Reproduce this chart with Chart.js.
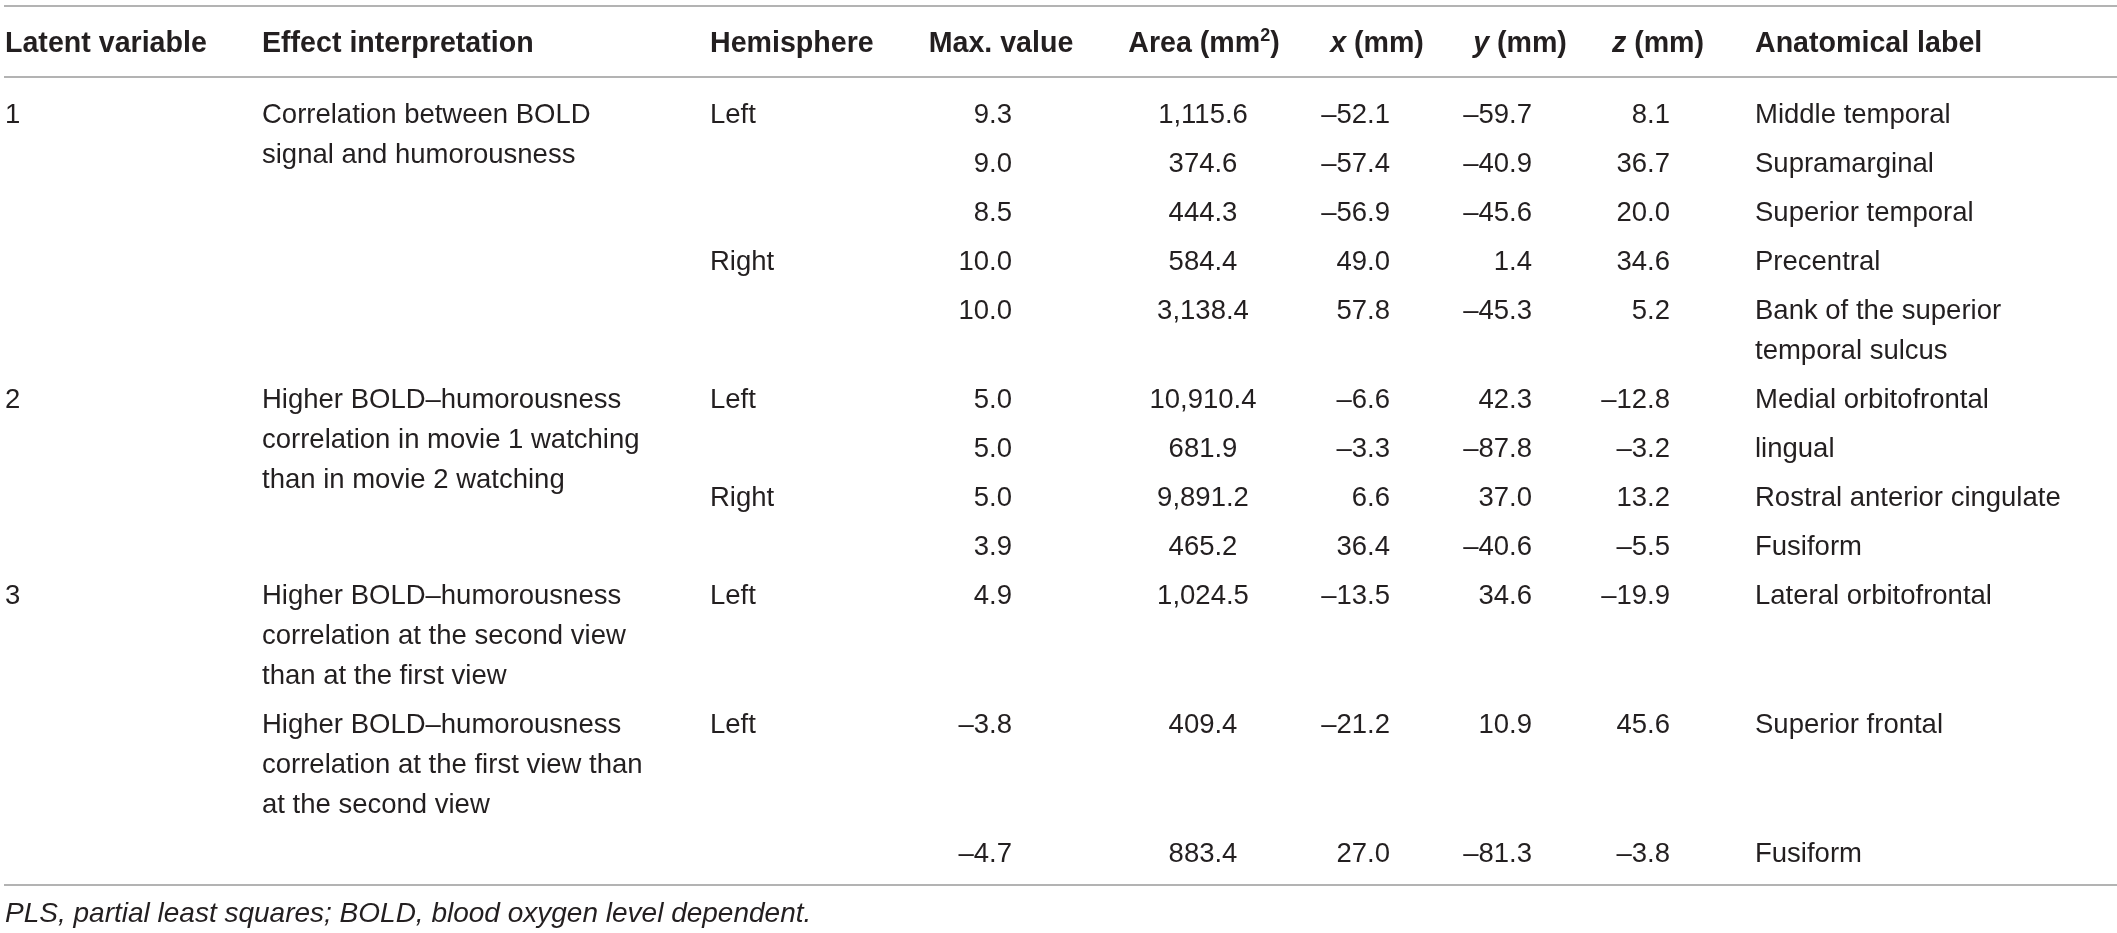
<!DOCTYPE html>
<html>
<head>
<meta charset="utf-8">
<title>PLS results table</title>
<script src="https://cdn.jsdelivr.net/npm/chart.js@4.4.0/dist/chart.umd.min.js"></script>
<style>
  html, body { margin: 0; padding: 0; background: #fff; overflow: hidden; }
  #wrap { width: 2117px; height: 933px; }
</style>
</head>
<body>
<div id="wrap"><canvas id="tableChart" width="2117" height="933"></canvas></div>
<script>
// ------------------------------------------------------------
// Table data (one entry per table row)
// ------------------------------------------------------------
const latentVariable = ['1', '', '', '', '', '2', '', '', '', '3', '', ''];
const effectText = [
  ['Correlation between BOLD', 'signal and humorousness'], [], [], [], [],
  ['Higher BOLD\u2013humorousness', 'correlation in movie 1 watching', 'than in movie 2 watching'], [], [], [],
  ['Higher BOLD\u2013humorousness', 'correlation at the second view', 'than at the first view'],
  ['Higher BOLD\u2013humorousness', 'correlation at the first view than', 'at the second view'],
  []
];
const hemisphere = ['Left', '', '', 'Right', '', 'Left', '', 'Right', '', 'Left', 'Left', ''];
const maxValue = [9.3, 9.0, 8.5, 10.0, 10.0, 5.0, 5.0, 5.0, 3.9, 4.9, -3.8, -4.7];
const areaMm2 = [1115.6, 374.6, 444.3, 584.4, 3138.4, 10910.4, 681.9, 9891.2, 465.2, 1024.5, 409.4, 883.4];
const xMm = [-52.1, -57.4, -56.9, 49.0, 57.8, -6.6, -3.3, 6.6, 36.4, -13.5, -21.2, 27.0];
const yMm = [-59.7, -40.9, -45.6, 1.4, -45.3, 42.3, -87.8, 37.0, -40.6, 34.6, 10.9, -81.3];
const zMm = [8.1, 36.7, 20.0, 34.6, 5.2, -12.8, -3.2, 13.2, -5.5, -19.9, 45.6, -3.8];
const anatomicalLabel = [
  ['Middle temporal'], ['Supramarginal'], ['Superior temporal'], ['Precentral'],
  ['Bank of the superior', 'temporal sulcus'], ['Medial orbitofrontal'], ['lingual'],
  ['Rostral anterior cingulate'], ['Fusiform'], ['Lateral orbitofrontal'], ['Superior frontal'], ['Fusiform']
];
// text lines a row takes before the next row starts
const rowLines = [1, 1, 1, 1, 2, 1, 1, 1, 1, 3, 3, 1];

const footnote = 'PLS, partial least squares; BOLD, blood oxygen level dependent.';

// ------------------------------------------------------------
// Layout / style
// ------------------------------------------------------------
const FONT = '"Liberation Sans", Arial, Helvetica, sans-serif';
const BODY_SIZE = 27.5;
const HEAD_SIZE = 28.6;
const TEXT_COLOR = '#231f20';
const RULE_COLOR = '#9a9a9a';

const FIRST_ROW = 113;   // centre of first body row
const ROW_STEP = 49;
const LINE_STEP = 40;

const cols = {
  latent: { x: 5, align: 'left' },
  effect: { x: 262, align: 'left' },
  hemi:   { x: 710, align: 'left' },
  maxv:   { x: 1012, align: 'right', head: 1001 },
  area:   { x: 1203, align: 'center', head: 1204 },
  xmm:    { x: 1390, align: 'right', head: 1377 },
  ymm:    { x: 1532, align: 'right', head: 1520 },
  zmm:    { x: 1670, align: 'right', head: 1658 },
  label:  { x: 1755, align: 'left' }
};

const headerRuns = {
  latent: [['Latent variable', 'b']],
  effect: [['Effect interpretation', 'b']],
  hemi:   [['Hemisphere', 'b']],
  maxv:   [['Max. value', 'b']],
  area:   [['Area (mm', 'b'], ['2', 'sup'], [')', 'b']],
  xmm:    [['x', 'bi'], [' (mm)', 'b']],
  ymm:    [['y', 'bi'], [' (mm)', 'b']],
  zmm:    [['z', 'bi'], [' (mm)', 'b']],
  label:  [['Anatomical label', 'b']]
};

function fmt(v, sep) {
  const s = Math.abs(v).toLocaleString('en-US', { minimumFractionDigits: 1, maximumFractionDigits: 1, useGrouping: !!sep });
  return (v < 0 ? '\u2013' : '') + s;
}

function runFont(kind) {
  if (kind === 'bi') return 'italic bold ' + HEAD_SIZE + 'px ' + FONT;
  if (kind === 'sup') return 'bold 18px ' + FONT;
  return 'bold ' + HEAD_SIZE + 'px ' + FONT;
}

const tablePlugin = {
  id: 'tableDraw',
  afterDraw(chart) {
    const { ctx, scales: { x, y } } = chart;
    const px = v => x.getPixelForValue(v);
    const py = v => y.getPixelForValue(v);

    ctx.save();
    ctx.fillStyle = TEXT_COLOR;
    ctx.textBaseline = 'alphabetic';

    // rules
    ctx.strokeStyle = RULE_COLOR;
    ctx.lineWidth = 1.6;
    [6, 77, 885].forEach(r => {
      ctx.beginPath();
      ctx.moveTo(px(4), py(r));
      ctx.lineTo(px(2117), py(r));
      ctx.stroke();
    });

    // header
    const headBase = 52;
    Object.keys(cols).forEach(k => {
      const runs = headerRuns[k];
      let w = 0;
      runs.forEach(([t, kind]) => { ctx.font = runFont(kind); w += ctx.measureText(t).width; });
      const c = cols[k];
      let sx = c.head !== undefined ? c.head - w / 2 : c.x;
      runs.forEach(([t, kind]) => {
        ctx.font = runFont(kind);
        ctx.textAlign = 'left';
        const dy = kind === 'sup' ? -11 : 0;
        ctx.fillText(t, px(sx), py(headBase) + dy);
        sx += ctx.measureText(t).width;
      });
    });

    // body rows
    ctx.font = BODY_SIZE + 'px ' + FONT;
    const off = BODY_SIZE * 0.36;
    let rowY = FIRST_ROW;
    const cell = (text, c, yy) => {
      ctx.textAlign = c.align;
      ctx.fillText(text, px(c.x), py(yy + off));
    };
    maxValue.forEach((mv, i) => {
      if (latentVariable[i]) cell(latentVariable[i], cols.latent, rowY);
      effectText[i].forEach((ln, j) => cell(ln, cols.effect, rowY + j * LINE_STEP));
      if (hemisphere[i]) cell(hemisphere[i], cols.hemi, rowY);
      cell(fmt(mv), cols.maxv, rowY);
      cell(fmt(areaMm2[i], true), cols.area, rowY);
      cell(fmt(xMm[i]), cols.xmm, rowY);
      cell(fmt(yMm[i]), cols.ymm, rowY);
      cell(fmt(zMm[i]), cols.zmm, rowY);
      anatomicalLabel[i].forEach((ln, j) => cell(ln, cols.label, rowY + j * LINE_STEP));
      rowY += ROW_STEP + LINE_STEP * (rowLines[i] - 1);
    });

    // footnote
    ctx.font = 'italic 28px ' + FONT;
    ctx.textAlign = 'left';
    ctx.fillText(footnote, px(5), py(912 + off));
    ctx.restore();
  }
};

new Chart(document.getElementById('tableChart'), {
  type: 'scatter',
  data: { datasets: [{ data: [], pointRadius: 0 }] },
  options: {
    responsive: false,
    animation: false,
    devicePixelRatio: 1,
    layout: { padding: 0 },
    plugins: { legend: { display: false }, tooltip: { enabled: false } },
    scales: {
      x: { type: 'linear', min: 0, max: 2117, display: false },
      y: { type: 'linear', min: 0, max: 933, reverse: true, display: false }
    }
  },
  plugins: [tablePlugin]
});
</script>
</body>
</html>
